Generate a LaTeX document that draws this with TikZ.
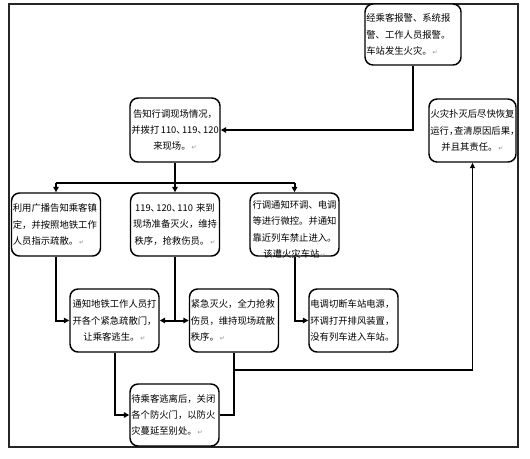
\documentclass[tikz,border=0pt]{standalone}
\usepackage{fontspec}
\newfontfamily\cjk{Noto Sans CJK SC}
\newfontfamily\symfnt{DejaVu Sans}
\usetikzlibrary{arrows.meta}
\newcommand{\retmark}{{\symfnt\fontsize{4.5pt}{4.5pt}\selectfont\color{black!45}\,↵}}
\newcommand{\hc}{\makebox[0.55em][l]{，}}
\newcommand{\hd}{\makebox[0.6em][l]{、}}
\begin{document}
\begin{tikzpicture}[x=0.75pt,y=-0.75pt,
  box/.style={draw, rounded corners=6pt, line width=1.1pt, fill=white,
    inner xsep=1pt, inner ysep=1pt,
    font=\cjk\fontsize{7pt}{12.3pt}\selectfont},
  wC/.style={minimum width=66.75pt, text width=64.75pt, minimum height=47.25pt},
  txt/.style={inner sep=0pt, font=\cjk\fontsize{7pt}{12.3pt}\selectfont},
  conn/.style={line width=1.5pt},
  arr/.style={conn, -{Triangle[length=4pt,width=4pt]}},
  thinarr/.style={line width=1pt, -{Triangle[length=4pt,width=3.5pt]}},
  frame/.style={line width=0.9pt, draw=black!85}
]
\useasboundingbox (0,0) rectangle (530,458);
\fill[white] (0,0) rectangle (530,458);
\draw[frame] (9,4) rectangle (518,447);

% top row
\node[box, minimum width=72pt, text width=70pt, minimum height=45.75pt, align=left] (A) at (413,34.5)
  {经乘客报警、系统报\\警、工作人员报警。\\车站发生火灾。\retmark};
\node[box, minimum width=67.5pt, text width=65.5pt, minimum height=48pt, align=center] (B) at (175,130)
  {告知行调现场情况，\\并拨打\,110\hd 119\hd 120\\来现场。\retmark};
\node[box, minimum width=65.25pt, text width=63.25pt, minimum height=47.25pt, align=center] (F) at (472.5,130.5)
  {火灾扑灭后尽快恢复\\运行\hc 查清原因后果\hc\\并且其责任。\retmark};

% second row
\node[box, wC, align=left] (C1) at (56,224.5)
  {利用广播告知乘客镇\\定，并按照地铁工作\\人员指示疏散。\retmark};
\node[box, wC, align=center] (C2) at (175,224.5)
  {119\hd 120\hd 110~来到\\现场准备灭火，维持\\秩序，抢救伤员。\retmark};
\node[box, wC] (C3) at (294.5,224.5) {};
\node[txt, anchor=north, text width=64.75pt, align=center] (C3t) at ([yshift=-6pt]C3.north)
  {行调通知环调、电调\\等进行微控。并通知\\靠近列车禁止进入。\\该遭火灾车站\retmark};

% third row
\node[box, wC, align=center] (D1) at (114.5,320.5)
  {通知地铁工作人员打\\开各个紧急疏散门，\\让乘客逃生。\retmark};
\node[box, wC, align=left] (D2) at (234,320.5)
  {紧急灭火，全力抢救\\伤员，维持现场疏散\\秩序。\retmark};
\node[box, wC, align=left] (D3) at (353.5,320.5)
  {电调切断车站电源，\\环调打开排风装置，\\没有列车进入车站。};

% bottom
\node[box, wC, minimum height=46.5pt, align=left] (E) at (174.5,415)
  {待乘客逃离后，关闭\\各个防火门，以防火\\灾蔓延至别处。\retmark};

% connectors
\draw[arr] (A.south) |- (B.east);
\coordinate (bus) at (175,183);
\draw[conn] (C1.north |- bus) -- (C3.north |- bus);
\draw[arr] (B.south) -- (C2.north);
\draw[arr] (C1.north |- bus) -- (C1.north);
\draw[arr] (C3.north |- bus) -- (C3.north);

\draw[arr] (C1.south) |- (D1.west);
\draw[conn] (C2.south) -- (C2.south |- D1.east) coordinate (j2);
\draw[arr] (j2) -- (D1.east);
\draw[arr] (j2) -- (D2.west);
\draw[arr] (C3.south) |- (D3.west);

\draw[arr] (D1.south) |- (E.west);
\draw[conn] (D2.south) |- (E.east);
\coordinate (j3) at (D2.south |- 0,370);
\draw[conn] (j3) -- (j3 -| F.south) coordinate (j4);
\draw[thinarr] (j4) -- (F.south);
\end{tikzpicture}
\end{document}
